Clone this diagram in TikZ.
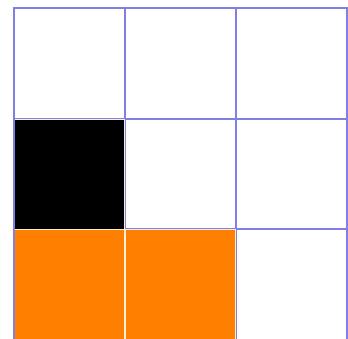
\documentclass[tikz,border=0pt]{standalone}
\usetikzlibrary{positioning}

\definecolor{gridblue}{RGB}{128,128,228}
\definecolor{tileorange}{RGB}{255,128,0}

\tikzset{
    cell/.style={draw=gridblue, line width=0.5mm, minimum size=33.3mm, inner sep=0pt, outer sep=0pt},
    tile/.style={draw=white!85!tileorange, line width=0.25mm, minimum size=33mm, inner sep=0pt, outer sep=0pt}
}

\begin{document}
\begin{tikzpicture}[x=0.3mm, y=-0.3mm]
    \useasboundingbox (0,0) rectangle (348,338);
    \clip (0,0) rectangle (348,338);
    % grid of cells
    \foreach \col in {0,1,2} {
        \foreach \row in {0,1,2} {
            \node[cell] (c-\col-\row) at ({69.5+111*\col},{63.5+110.5*\row}) {};
        }
    }
    % coloured tiles
    \node[tile, fill=black] (wall) at (c-0-1) {};
    \node[tile, fill=tileorange] (path-a) at (c-0-2) {};
    \node[tile, fill=tileorange] (path-b) at (c-1-2) {};
    \draw[gridblue, line width=0.5mm] (c-0-1.north west) -- (c-0-2.south west);
\end{tikzpicture}
\end{document}
